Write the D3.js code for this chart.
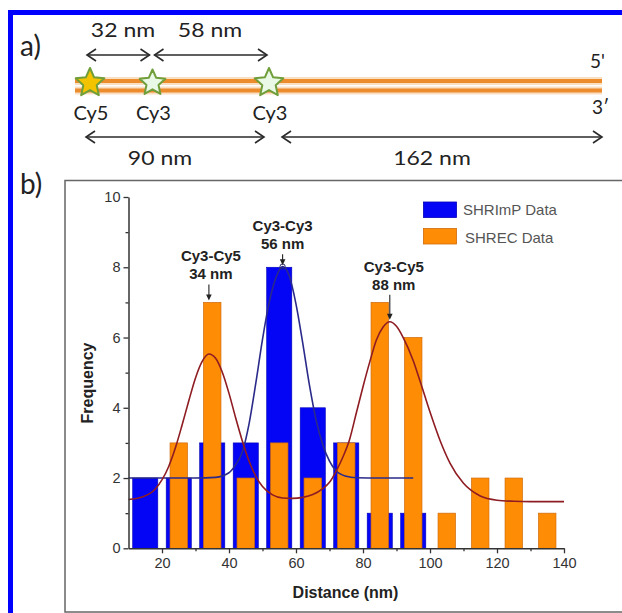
<!DOCTYPE html>
<html><head><meta charset="utf-8">
<script src="https://cdn.jsdelivr.net/npm/d3@7"></script>
<style>body{margin:0;background:#fff}svg{display:block}</style>
</head><body>
<svg id="c" width="622" height="613"></svg>
<script>
// ---------- Panel b data ----------
const binCenters   = [15,25,35,45,55,65,75,85,95,105,115,125,135];
const shrimpCounts = [2,2,3,3,8,4,3,1,1,0,0,0,0];
const shrecCounts  = [0,3,7,2,3,2,3,7,6,1,2,2,1];
const xTicks = [20,40,60,80,100,120,140];
const xMinorTicks = [30,50,70,90,110,130];
const yTicks = [0,2,4,6,8,10];
const yMinorTicks = [1,3,5,7,9];
// fitted curves
const shrimpFitX = [10,20,30,36,40,42,44,46,48,50,52,54,56,58,60,62,64,66,68,70,72,75,78,85,95];
const shrimpFitY = [2,2,2,2.02,2.15,2.38,2.75,3.55,4.7,5.95,7.0,7.7,8.02,7.75,6.95,5.85,4.65,3.65,2.95,2.48,2.2,2.05,2.01,2,2];
const shrecFitX = [10,14,18,22,24,26,28,30,32,34,36,38,40,42,44,46,48,50,53,56,59,62,65,68,70,72,74,76,78,80,82,84,86,88,90,92,95,97,100,103,106,110,115,120,125,130,140];
const shrecFitY = [1.39,1.46,1.69,2.33,2.86,3.51,4.2,4.85,5.32,5.53,5.41,5.01,4.41,3.71,3.05,2.48,2.05,1.76,1.52,1.43,1.42,1.45,1.53,1.7,1.88,2.2,2.6,3.1,3.85,4.6,5.3,5.93,6.3,6.45,6.32,6.0,5.34,4.77,3.88,3.07,2.42,1.85,1.49,1.37,1.34,1.33,1.33];
const annotTitles = ["Cy3-Cy5","Cy3-Cy3","Cy3-Cy5"];
const annotDistances = ["34 nm","56 nm","88 nm"];
const annotX = [34,56,88];
const annotY = [7,8,6.45];
const legendLabels = ["SHRImP Data","SHREC Data"];
const xTitle = "Distance (nm)";
const yTitle = "Frequency";
// ---------- Panel a data ----------
const dyeNames = ["Cy5","Cy3","Cy3"];
const dyePosNm = [0,32,90];
const strandEndNm = 252;
const topSpanLabels = ["32 nm","58 nm"];
const bottomSpanLabels = ["90 nm","162 nm"];

const svg = d3.select("#c");
const ARIAL = "'Liberation Sans', Arial, sans-serif";
const CAL = "Lato, 'Open Sans', sans-serif";

// outer blue frame
svg.append("rect").attr("x",8).attr("y",10).attr("width",614).attr("height",5).attr("fill","#0000ff");
svg.append("rect").attr("x",8).attr("y",10).attr("width",5).attr("height",603).attr("fill","#0000ff");

// panel labels
svg.append("text").attr("x",20).attr("y",56).attr("font-family",CAL).attr("font-size",28).attr("fill","#222").text("a)");
svg.append("text").attr("x",20).attr("y",194).attr("font-family",CAL).attr("font-size",28).attr("fill","#222").text("b)");

// ---------- Panel a ----------
const sx = d3.scaleLinear().domain([0,32,90,252]).range([90,152.5,269,602]);
const ga = svg.append("g");
const strandY = [81,90.5];
strandY.forEach(y=>{
  ga.append("line").attr("x1",75).attr("x2",sx(strandEndNm)).attr("y1",y).attr("y2",y)
    .attr("stroke","#f4b877").attr("stroke-opacity",0.45).attr("stroke-width",8);
});
strandY.forEach(y=>{
  ga.append("line").attr("x1",75).attr("x2",sx(strandEndNm)).attr("y1",y).attr("y2",y)
    .attr("stroke","#ec8c2c").attr("stroke-width",4);
});
function starPath(cx,cy,R,r){
  const pts=[];
  for(let i=0;i<10;i++){const a=-Math.PI/2+i*Math.PI/5;const rr=i%2?r:R;pts.push([cx+rr*Math.cos(a),cy+rr*Math.sin(a)]);}
  return "M"+pts.map(p=>p.join(",")).join("L")+"Z";
}
const starR = [15,13.5,15];
const starFill = ["#f3c300","#eaf8e6","#eaf8e6"];
dyePosNm.forEach((p,i)=>{
  ga.append("path").attr("d",starPath(sx(p),83,starR[i],starR[i]*0.47))
    .attr("fill",starFill[i]).attr("stroke","#6f9e3a").attr("stroke-width",2).attr("stroke-linejoin","round");
  ga.append("text").attr("x",sx(p)+1).attr("y",120).attr("text-anchor","middle")
    .attr("font-family",CAL).attr("font-size",20).attr("fill","#222").text(dyeNames[i]);
});
function hArrow(x1,x2,y){
  const g=ga.append("g").attr("stroke","#2a2a2a").attr("stroke-width",1.6).attr("fill","none");
  g.append("line").attr("x1",x1).attr("x2",x2).attr("y1",y).attr("y2",y);
  g.append("path").attr("d",`M${x1+9},${y-6}L${x1},${y}L${x1+9},${y+6}`);
  g.append("path").attr("d",`M${x2-9},${y-6}L${x2},${y}L${x2-9},${y+6}`);
}
hArrow(sx(dyePosNm[0])-3, sx(dyePosNm[1])-3, 55);
hArrow(sx(dyePosNm[1])+2, sx(dyePosNm[2])-2, 55);
hArrow(sx(dyePosNm[0])-4, sx(dyePosNm[2])-5, 137);
hArrow(sx(dyePosNm[2])+13, sx(strandEndNm), 137);
function spanText(x,y,t){
  ga.append("text").attr("transform",`translate(${x},${y}) scale(1.15,1)`).attr("text-anchor","middle")
    .attr("font-family",CAL).attr("font-size",20).attr("fill","#222").text(t);
}
spanText(123,37,topSpanLabels[0]);
spanText(210,37,topSpanLabels[1]);
spanText(160,165,bottomSpanLabels[0]);
spanText(432,165,bottomSpanLabels[1]);
ga.append("text").attr("x",590).attr("y",68).attr("font-family",CAL).attr("font-size",19).attr("fill","#222").text("5'");
ga.append("text").attr("x",592).attr("y",114).attr("font-family",CAL).attr("font-size",19).attr("fill","#222").text("3\u2032");

// ---------- Panel b ----------
svg.append("rect").attr("x",65).attr("y",180.5).attr("width",600).attr("height",431.5)
  .attr("fill","none").attr("stroke","#666").attr("stroke-width",1.5);

const x = d3.scaleLinear().domain([10,140]).range([128.5,564]);
const y = d3.scaleLinear().domain([0,10]).range([548.3,197]);
const gb = svg.append("g");
const blueW = 7.5, orangeW = 5.2;

const bins = binCenters.map((c,i)=>({c, s:shrimpCounts[i], r:shrecCounts[i]}));
gb.selectAll("rect.shrimp").data(bins.filter(d=>d.s>0)).join("rect").attr("class","shrimp")
  .attr("x",d=>x(d.c-blueW/2)).attr("width",d=>x(d.c+blueW/2)-x(d.c-blueW/2))
  .attr("y",d=>y(d.s)).attr("height",d=>y(0)-y(d.s))
  .attr("fill","#0505f5").attr("stroke","#0000b8").attr("stroke-width",0.6);
gb.selectAll("rect.shrec").data(bins.filter(d=>d.r>0)).join("rect").attr("class","shrec")
  .attr("x",d=>x(d.c-orangeW/2)).attr("width",d=>x(d.c+orangeW/2)-x(d.c-orangeW/2))
  .attr("y",d=>y(d.r)).attr("height",d=>y(0)-y(d.r))
  .attr("fill","#ff8c05").attr("stroke","#d0690a").attr("stroke-width",0.7);

const line = d3.line().x(d=>x(d[0])).y(d=>y(d[1])).curve(d3.curveMonotoneX);
gb.append("path").attr("d",line(shrimpFitX.map((v,i)=>[v,shrimpFitY[i]])))
  .attr("fill","none").attr("stroke","#2a2a8a").attr("stroke-width",1.6);
gb.append("path").attr("d",line(shrecFitX.map((v,i)=>[v,shrecFitY[i]])))
  .attr("fill","none").attr("stroke","#8e1c22").attr("stroke-width",1.6);
gb.append("circle").attr("cx",x(56)).attr("cy",y(8.02)).attr("r",2.6)
  .attr("fill","none").attr("stroke","#2a2a6a").attr("stroke-width",1);

// axes
function styleAxis(g){
  g.selectAll(".domain").attr("stroke","#333").attr("stroke-width",1.5);
  g.selectAll(".tick line").attr("stroke","#333").attr("stroke-width",1.3);
  g.selectAll(".tick text").attr("font-family",ARIAL).attr("font-size",14.5).attr("fill","#333");
}
const xa = gb.append("g").attr("transform",`translate(0,${y(0)})`)
  .call(d3.axisBottom(x).tickValues(xTicks).tickSize(5).tickSizeOuter(0).tickPadding(4).tickFormat(d3.format("d")));
styleAxis(xa);
const xm = gb.append("g").attr("transform",`translate(0,${y(0)})`)
  .call(d3.axisBottom(x).tickValues(xMinorTicks).tickSize(3).tickSizeOuter(0).tickFormat(""));
styleAxis(xm); xm.select(".domain").remove();
const ya = gb.append("g").attr("transform",`translate(${x(10)},0)`)
  .call(d3.axisLeft(y).tickValues(yTicks).tickSize(5).tickSizeOuter(0).tickPadding(3).tickFormat(d3.format("d")));
styleAxis(ya);
const ym = gb.append("g").attr("transform",`translate(${x(10)},0)`)
  .call(d3.axisLeft(y).tickValues(yMinorTicks).tickSize(3).tickSizeOuter(0).tickFormat(""));
styleAxis(ym); ym.select(".domain").remove();

gb.append("text").attr("x",345.5).attr("y",598).attr("text-anchor","middle")
  .attr("font-family",ARIAL).attr("font-weight","bold").attr("font-size",16).attr("fill","#222").text(xTitle);
gb.append("text").attr("transform","translate(93,383) rotate(-90)").attr("text-anchor","middle")
  .attr("font-family",ARIAL).attr("font-weight","bold").attr("font-size",16).attr("fill","#222").text(yTitle);

// legend
const legFill = ["#0505f5","#ff8c05"], legStroke = ["#0000b8","#d0690a"];
legendLabels.forEach((t,i)=>{
  gb.append("rect").attr("x",423.5).attr("y",202+i*26.5).attr("width",33).attr("height",15.5)
    .attr("fill",legFill[i]).attr("stroke",legStroke[i]).attr("stroke-width",0.8);
  gb.append("text").attr("x",463+i*2).attr("y",215+i*28).attr("font-family",ARIAL).attr("font-size",15)
    .attr("fill","#555").text(t);
});

// annotations
annotX.forEach((v,i)=>{
  const px = x(v), tip = y(annotY[i]) - 2;
  const len = [16,11,25][i];
  const cx = px + [2,0,4][i];
  gb.append("text").attr("x",cx).attr("y",tip-len-23).attr("text-anchor","middle")
    .attr("font-family",ARIAL).attr("font-weight","bold").attr("font-size",15).attr("fill","#222").text(annotTitles[i]);
  gb.append("text").attr("x",cx).attr("y",tip-len-5).attr("text-anchor","middle")
    .attr("font-family",ARIAL).attr("font-weight","bold").attr("font-size",15).attr("fill","#222").text(annotDistances[i]);
  gb.append("line").attr("x1",px).attr("x2",px).attr("y1",tip-len).attr("y2",tip-4)
    .attr("stroke","#222").attr("stroke-width",1.1);
  gb.append("path").attr("d",`M${px-2.8},${tip-6}L${px+2.8},${tip-6}L${px},${tip}Z`).attr("fill","#222");
});
</script>
</body></html>
